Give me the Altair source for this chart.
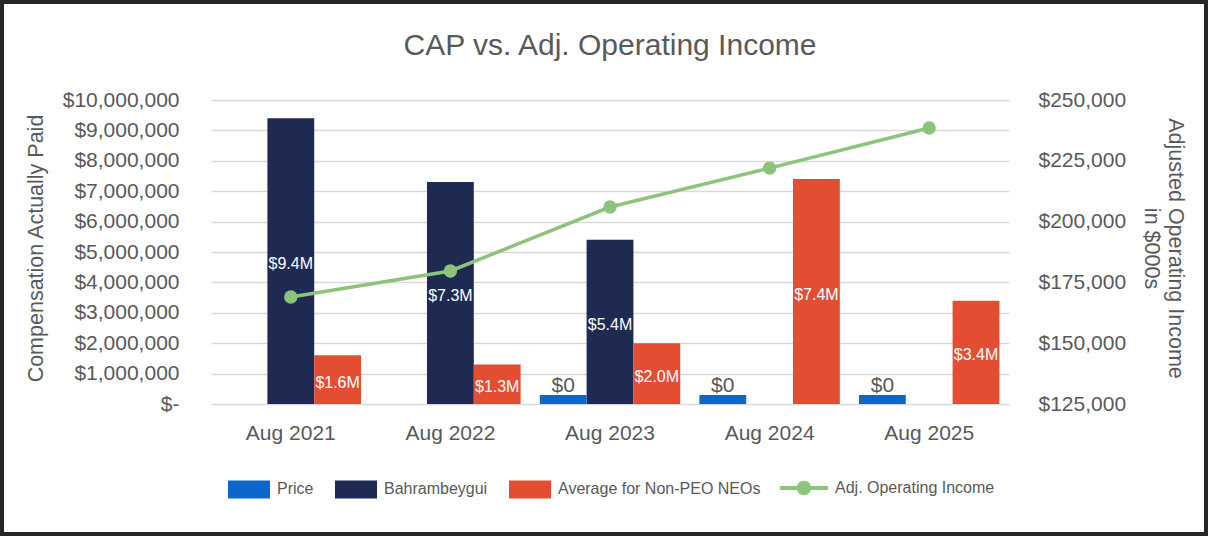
import altair as alt
import pandas as pd

# ---- data -------------------------------------------------------------
categories = ["Aug 2021", "Aug 2022", "Aug 2023", "Aug 2024", "Aug 2025"]
series_names = ["Price", "Bahrambeygui", "Average for Non-PEO NEOs"]
price_cap = [None, None, 0, 0, 0]
bahrambeygui_cap = [9_400_000, 7_300_000, 5_400_000, None, None]
non_peo_cap = [1_600_000, 1_300_000, 2_000_000, 7_400_000, 3_400_000]
income_label = "Adj. Operating Income"
adj_operating_income = [169_000, 179_700, 206_000, 222_000, 238_500]

left_ticks = list(range(0, 10_000_001, 1_000_000))
right_ticks = list(range(125_000, 250_001, 25_000))

# ---- styling ----------------------------------------------------------
bar_colors = ["#0A68CC", "#1F2A52", "#E34E33"]
line_color = "#8DC47C"
text_gray = "#595959"
grid_gray = "#D9D9D9"
FONT = "Liberation Sans"

W, H = 798, 304
PAD = {"left": 211, "top": 100, "right": 1208 - 211 - W, "bottom": 536 - 100 - H}

rows = []
for name, vals in zip(series_names, [price_cap, bahrambeygui_cap, non_peo_cap]):
    for cat, v in zip(categories, vals):
        if v is not None:
            rows.append({"period": cat, "series": name, "cap": v})
cap_df = pd.DataFrame(rows)
income_df = pd.DataFrame(
    {"period": categories, "income": adj_operating_income, "metric": income_label}
)

x_enc = alt.X(
    "period:N",
    sort=categories,
    scale=alt.Scale(domain=categories, paddingInner=0.12, paddingOuter=0.06),
    axis=alt.Axis(
        title=None, labelAngle=0, domain=False, ticks=False, tickSize=0,
        labelPadding=18, labelFontSize=21, labelColor=text_gray,
    ),
)
x_off = alt.XOffset(
    "series:N",
    sort=series_names,
    scale=alt.Scale(domain=series_names, paddingInner=0, paddingOuter=0),
)

left_scale = alt.Scale(domain=[0, 10_000_000], nice=False, zero=True)
left_axis = alt.Axis(
    title="Compensation Actually Paid",
    values=left_ticks,
    labelExpr="datum.value == 0 ? '$-' : '$' + format(datum.value, ',')",
    domain=False, ticks=False, tickSize=0, labelPadding=32,
    labelFontSize=21, labelColor=text_gray,
    grid=True, gridColor=grid_gray, gridWidth=1.3,
    titleFontSize=21.5, titleFontWeight="normal", titleColor=text_gray,
    titleAngle=-90, titleX=36 - 211, titleY=148,
    titleAlign="center", titleBaseline="middle",
)


def left_y(field):
    return alt.Y(field, scale=left_scale, axis=left_axis, title="Compensation Actually Paid")


bar_legend = alt.Legend(
    title=None, orient="none", direction="horizontal",
    legendX=16, legendY=367, padding=0,
    symbolType="M-0.955,-0.41H0.955V0.41H-0.955Z", symbolSize=1936,
    symbolStrokeWidth=0, symbolOpacity=1,
    labelFontSize=16, labelColor=text_gray, labelOffset=6, labelLimit=300,
    columnPadding=20,
)
color_enc = alt.Color(
    "series:N", sort=series_names,
    scale=alt.Scale(domain=series_names, range=bar_colors),
    legend=bar_legend,
)

base = alt.Chart(cap_df)

bars = base.transform_filter("datum.series != 'Price'").mark_bar().encode(
    x=x_enc, xOffset=x_off, y=left_y("cap:Q"), color=color_enc
)

# zero-valued Price bars keep a thin visible stub above the baseline
price_bars = (
    base.transform_filter("datum.series == 'Price'")
    .transform_calculate(base="0")
    .mark_bar(yOffset=-9, y2Offset=0)
    .encode(x=x_enc, xOffset=x_off, y=left_y("cap:Q"), y2="base:Q", color=color_enc)
)

value_labels = (
    base.transform_filter("datum.series != 'Price'")
    .transform_calculate(
        mid="datum.cap / 2",
        label="'$' + format(datum.cap / 1000000, '.1f') + 'M'",
    )
    .mark_text(color="white", fontSize=16, baseline="middle", dy=3)
    .encode(x=x_enc, xOffset=x_off, y=left_y("mid:Q"), text="label:N")
)

zero_labels = (
    base.transform_filter("datum.series == 'Price'")
    .transform_calculate(label="'$' + format(datum.cap, ',')")
    .mark_text(color=text_gray, fontSize=21, baseline="alphabetic", dy=-12)
    .encode(x=x_enc, xOffset=x_off, y=left_y("cap:Q"), text="label:N")
)

left = alt.layer(bars, price_bars, value_labels, zero_labels)

right_scale = alt.Scale(domain=[125_000, 250_000], nice=False, zero=False)
right_axis = alt.Axis(
    orient="right",
    title=["Adjusted Operating Income", "in $000s"],
    values=right_ticks, format="$,.0f",
    domain=False, ticks=False, tickSize=0, grid=False, labelPadding=29,
    labelFontSize=21, labelColor=text_gray,
    titleFontSize=21.5, titleFontWeight="normal", titleColor=text_gray,
    titleAngle=90, titleX=165, titleY=148, titleLineHeight=24,
    titleAlign="center", titleBaseline="middle",
)
right_y = alt.Y("income:Q", scale=right_scale, axis=right_axis)

line_legend = alt.Legend(
    title=None, orient="none", direction="horizontal",
    legendX=569, legendY=364, padding=0,
    symbolType="M-1,-0.08H1V0.08H-1Z M0.3,0A0.3,0.3 0 1 1 -0.3,0A0.3,0.3 0 1 1 0.3,0Z",
    symbolSize=2304, symbolStrokeWidth=0, symbolOpacity=1,
    labelFontSize=16, labelColor=text_gray, labelOffset=7, labelLimit=300,
)

income_line = alt.Chart(income_df).mark_line(color=line_color, strokeWidth=3.5).encode(
    x=x_enc, y=right_y
)
income_points = alt.Chart(income_df).mark_circle(size=180, opacity=1).encode(
    x=x_enc,
    y=right_y,
    fill=alt.Fill(
        "metric:N",
        scale=alt.Scale(domain=[income_label], range=[line_color]),
        legend=line_legend,
    ),
)
right = alt.layer(income_line, income_points)

# outer frame around the whole figure
frame = alt.Chart(alt.Data(values=[{}])).mark_rect(
    filled=False, stroke="#262626", strokeWidth=4
).encode(
    x=alt.value(-PAD["left"] + 2),
    x2=alt.value(W + PAD["right"] - 2),
    y=alt.value(-PAD["top"] + 2),
    y2=alt.value(H + PAD["bottom"] - 2),
)

# the frame sits at the outer edge, so the title offset is measured back
# from there to place its baseline 45px above the plot area
chart = (
    alt.layer(left, right, frame)
    .resolve_scale(y="independent")
    .properties(
        width=W,
        height=H,
        autosize=alt.AutoSizeParams(type="none"),
        padding=PAD,
        background="white",
        title=alt.TitleParams(
            "CAP vs. Adj. Operating Income",
            fontSize=30, fontWeight="normal", color=text_gray,
            anchor="middle", frame="group", baseline="alphabetic", offset=-85,
        ),
    )
    .configure(font=FONT)
    .configure_view(stroke=None)
)

chart.save("out.html", embed_options={"renderer": "svg", "actions": False})
